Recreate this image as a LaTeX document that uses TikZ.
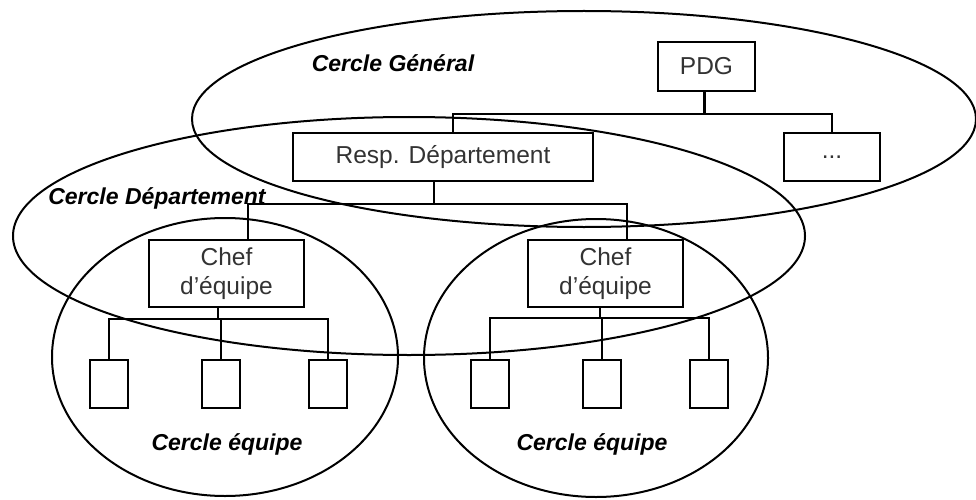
\documentclass[tikz,border=0pt]{standalone}
\usepackage{fontspec}
\setmainfont{Liberation Sans}
\usepackage{tikz}

\tikzset{
  poste/.style={draw, line width=2.4pt, inner sep=0pt, text=black!80,
    font=\fontsize{24.5}{29}\selectfont, align=center},
  membre/.style={draw, line width=2.4pt, minimum width=38, minimum height=48},
  lien/.style={line width=2.2pt},
  cercle/.style={line width=2pt},
  titre/.style={font=\fontsize{23}{29}\selectfont\bfseries\itshape, anchor=base, inner sep=0pt}
}

\begin{document}
\begin{tikzpicture}[x=1pt, y=-1pt]
\useasboundingbox (0,0) rectangle (976,500);

% Circles
\draw[cercle] (584,119) ellipse [x radius=392, y radius=108];
\draw[cercle] (409,236) ellipse [x radius=396, y radius=119];
\draw[cercle] (225,357) ellipse [x radius=173, y radius=139];
\draw[cercle] (596,358) ellipse [x radius=172, y radius=139];

% Circle names
\node[titre] (tGen) at (393,72) {Cercle Général};
\node[titre] (tDep) at (157,204) {Cercle Département};
\node[titre] (tEq1) at (227,450) {Cercle équipe};
\node[titre] (tEq2) at (592,450) {Cercle équipe};

% Top level
\node[poste, minimum width=97, minimum height=49] (pdg) at (706.5,66.5) {PDG};
\node[poste, minimum width=300, minimum height=48] (resp) at (443,157) {Resp. Département};
\node[poste, minimum width=96, minimum height=48] (autre) at (832,157) {...};
\draw[lien] ([xshift=-2]pdg.south) -- ++(0,22) -| ([xshift=10]resp.north);
\draw[lien] ([xshift=-2]pdg.south) -- ++(0,22) -| (autre.north);

% Team leaders
\node[poste, minimum width=155, minimum height=67] (chefA) at (226.5,273.5) {Chef\\d’équipe};
\node[poste, minimum width=155, minimum height=67] (chefB) at (605.5,273.5) {Chef\\d’équipe};
\draw[lien] ([xshift=-9]resp.south) -- ++(0,22) -| ([xshift=21.5]chefA.north);
\draw[lien] ([xshift=-9]resp.south) -- ++(0,22) -| ([xshift=21.5]chefB.north);

% Team members
\foreach \i/\x in {1/109, 2/221, 3/328} {
  \node[membre] (mA\i) at (\x,384) {};
  \draw[lien] ([xshift=-8.5]chefA.south) -- ++(0,11) -| (mA\i.north);
}
\foreach \i/\x in {1/490, 2/602, 3/709} {
  \node[membre] (mB\i) at (\x,384) {};
  \draw[lien] ([xshift=-5.5]chefB.south) -- ++(0,10) -| (mB\i.north);
}
\end{tikzpicture}
\end{document}
